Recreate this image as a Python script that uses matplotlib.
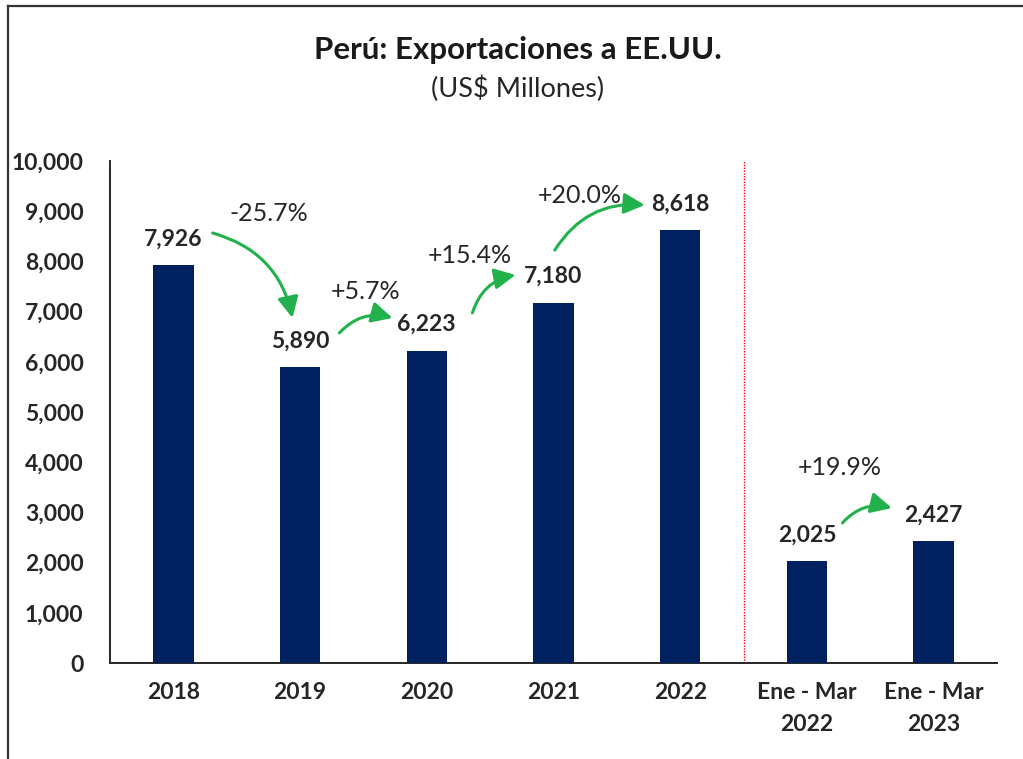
import matplotlib

matplotlib.use("Agg")
import matplotlib.pyplot as plt
from matplotlib.lines import Line2D

# --- data ---
categories = ["2018", "2019", "2020", "2021", "2022", "Ene - Mar\n2022", "Ene - Mar\n2023"]
values = [7926, 5890, 6223, 7180, 8618, 2025, 2427]
# pairs (from, to) that carry a growth arrow
growth_pairs = [(0, 1), (1, 2), (2, 3), (3, 4), (5, 6)]

# --- style ---
BAR_COLOR = "#002060"
ARROW_COLOR = "#22b24c"
FONT = "Lato"
plt.rcParams["font.family"] = [FONT, "DejaVu Sans"]

# arrow ends: (dx from bar i, dy above value i, dx from bar j, dy above value j)
arrow_offsets = [
    (0.31, 640, -0.06, 985),
    (0.31, 685, -0.27, 650),
    (0.36, 750, -0.30, 550),
    (0.01, 1045, -0.28, 505),
    (0.28, 765, -0.33, 660),
]
# growth label: (dx from bar i, dy above the higher of the two values)
label_offsets = [(0.75, 1020), (0.52, 1185), (0.34, 930), (0.21, 685), (0.26, 1475)]

fig = plt.figure(figsize=(10.23, 7.59), dpi=100)
ax = fig.add_axes([110 / 1023, 1 - 663 / 759, (997 - 110) / 1023, (663 - 161) / 759])

x = list(range(len(categories)))
ax.bar(x, values, width=0.32, color=BAR_COLOR, zorder=3)

for xi, v in zip(x, values):
    ax.annotate(
        f"{v:,}",
        xy=(xi, v),
        xytext=(0, 19),
        textcoords="offset points",
        ha="center",
        va="center",
        fontsize=16.5,
        fontweight="bold",
        color="#262626",
    )

for (i, j), (dxa, dya, dxb, dyb), (lx, ly) in zip(growth_pairs, arrow_offsets, label_offsets):
    ax.annotate(
        "",
        xy=(j + dxb, values[j] + dyb),
        xytext=(i + dxa, values[i] + dya),
        arrowprops=dict(
            arrowstyle="-|>,head_length=0.9,head_width=0.45",
            connectionstyle="arc3,rad=-0.3",
            color=ARROW_COLOR,
            lw=2.2,
            mutation_scale=14,
            shrinkA=0,
            shrinkB=0,
        ),
    )
    pct = (values[j] / values[i] - 1) * 100
    ax.text(
        i + lx,
        max(values[i], values[j]) + ly,
        f"{pct:+.1f}%",
        ha="center",
        va="center",
        fontsize=18,
        color="#262626",
    )

ax.axvline(4.5, color="red", lw=1, ls=(0, (1, 1)), zorder=2)

ax.set_xlim(-0.5, len(categories) - 0.5)
ax.set_ylim(0, 10000)
ax.set_yticks(range(0, 10001, 1000))
ax.set_yticklabels([f"{t:,}" for t in range(0, 10001, 1000)])
ax.set_xticks(x)
ax.set_xticklabels(categories, linespacing=1.6)
for lab in ax.get_xticklabels() + ax.get_yticklabels():
    lab.set_fontweight("bold")
    lab.set_fontsize(16.5)
    lab.set_color("#262626")
ax.tick_params(axis="y", length=0, pad=19)
ax.tick_params(axis="x", length=0, pad=14)

for side in ("top", "right"):
    ax.spines[side].set_visible(False)
for side in ("left", "bottom"):
    ax.spines[side].set_linewidth(1.4)
    ax.spines[side].set_color("#262626")

fig.text(518 / 1023, 1 - 50 / 759, "Perú: Exportaciones a EE.UU.",
         ha="center", va="center", fontsize=22.5, fontweight="bold", color="#1a1a1a")
fig.text(518 / 1023, 1 - 89 / 759, "(US$ Millones)",
         ha="center", va="center", fontsize=19.5, color="#262626")

# chart frame (left and top edges are visible in the crop)
fig.add_artist(Line2D([8 / 1023, 8 / 1023], [0, 1 - 6 / 759], transform=fig.transFigure,
                      color="#333333", lw=1.6))
fig.add_artist(Line2D([8 / 1023, 1], [1 - 6 / 759, 1 - 6 / 759], transform=fig.transFigure,
                      color="#333333", lw=1.6))

fig.savefig("out.png", dpi=100, facecolor="white")
